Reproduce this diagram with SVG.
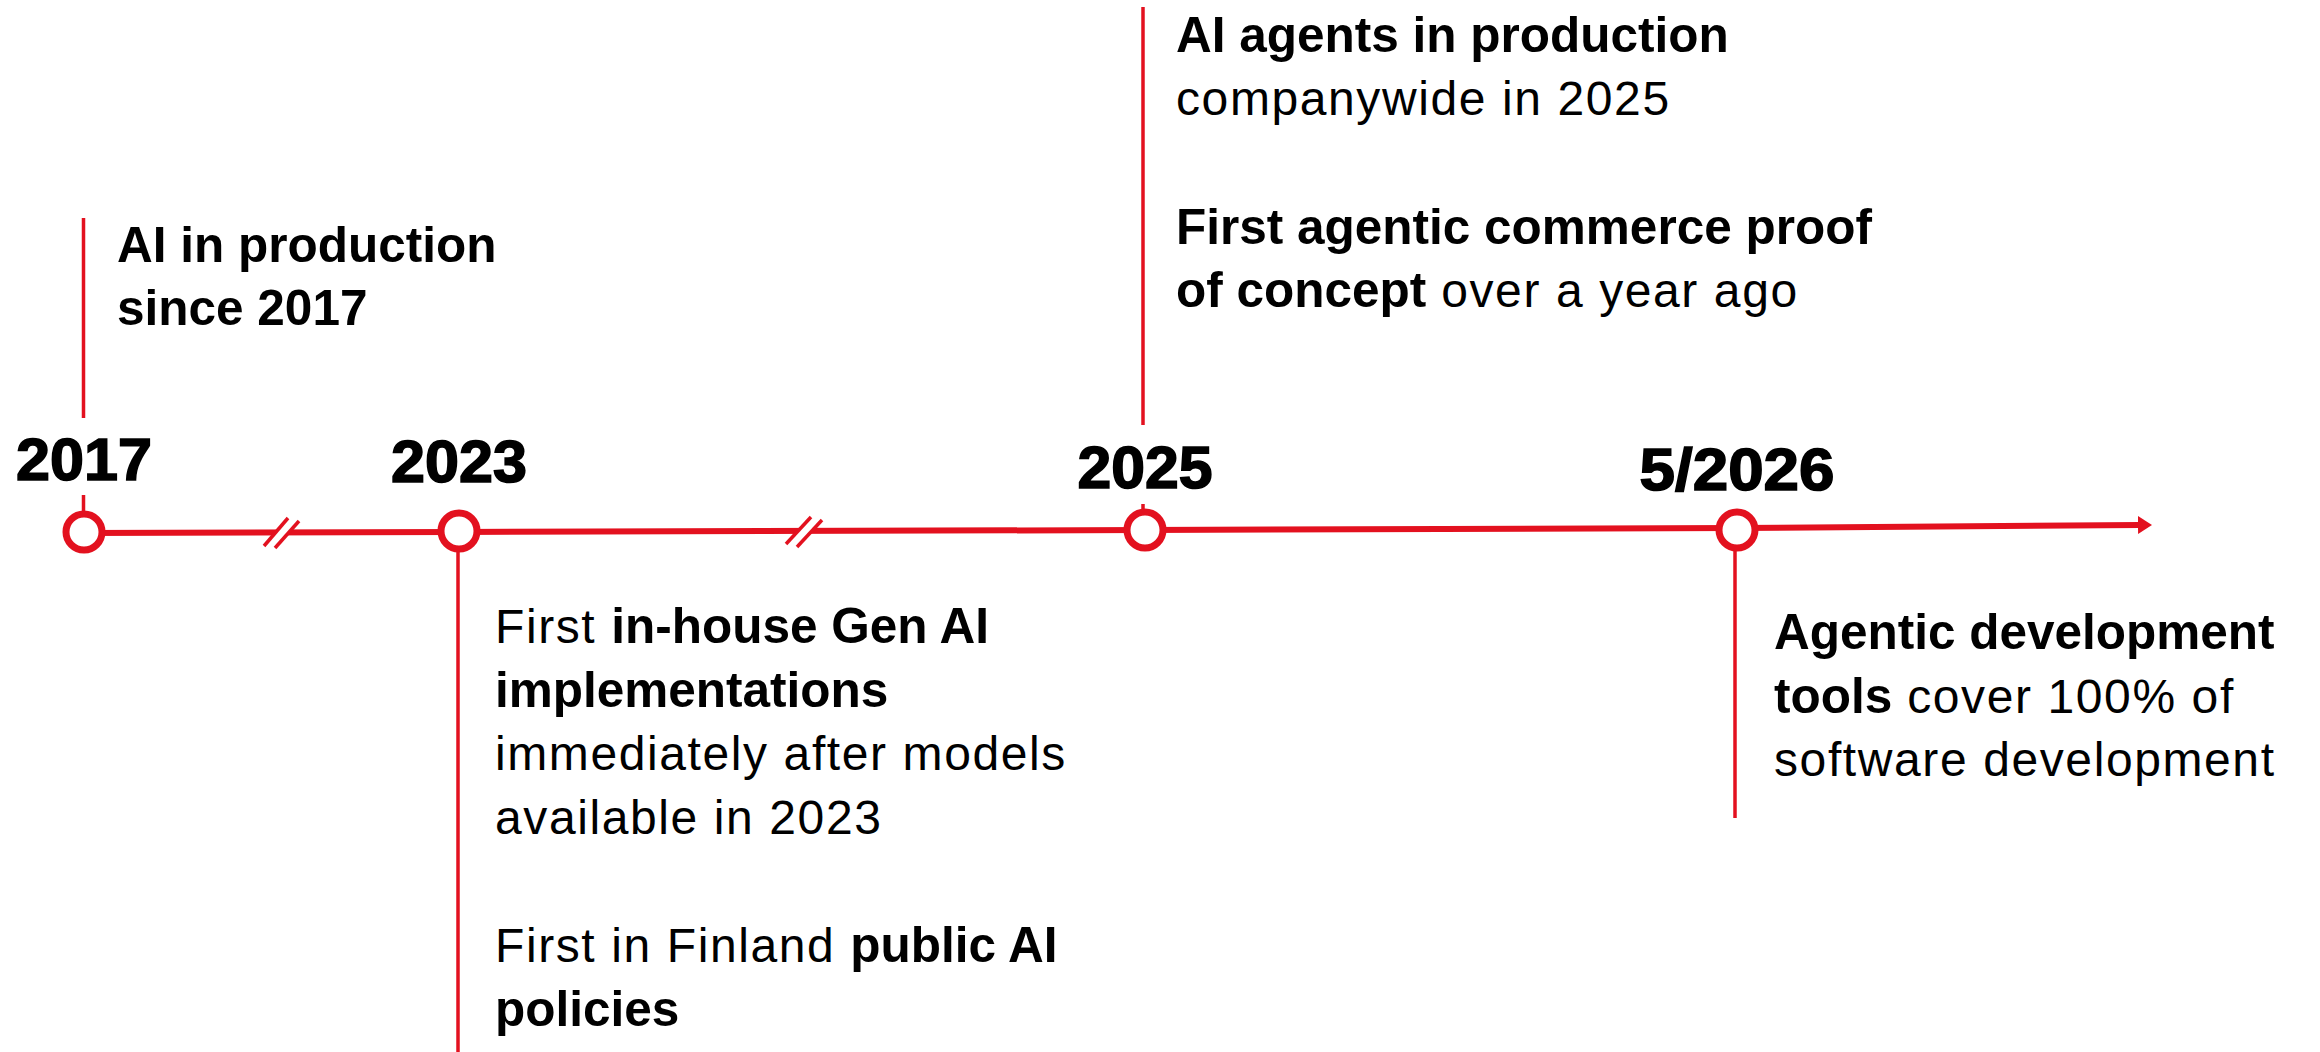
<svg xmlns="http://www.w3.org/2000/svg" width="2320" height="1052" viewBox="0 0 2320 1052">
<style>
.ln{stroke:#E3111F;fill:none}
.stem{stroke:#E3111F;stroke-width:3.5;fill:none}
.dot{stroke:#E3111F;stroke-width:7;fill:#fff}
.yr{font-family:"Liberation Sans",Arial,sans-serif;font-weight:bold;font-size:60px;fill:#000;stroke:#000;stroke-width:1.6;text-anchor:middle}
.t{font-family:"Liberation Sans",Arial,sans-serif;font-size:48px;fill:#000;letter-spacing:1.6px}
.b{font-weight:bold;font-size:49.5px;letter-spacing:0}
</style>
<defs>
<marker id="arr" markerUnits="userSpaceOnUse" markerWidth="16" markerHeight="20" refX="2" refY="10" orient="auto">
<path d="M0,1 L14,10 L0,19 Z" fill="#E3111F"/>
</marker>
</defs>
<g id="connectors">
<polyline class="ln" stroke-width="6" points="84,533 459,532 1145,530 1737,528 2140,525" marker-end="url(#arr)"/>
<polygon points="264,546 288,518 299,521 275,548" fill="#fff"/>
<line class="ln" stroke-width="3.5" x1="264" y1="546" x2="288" y2="518"/>
<line class="ln" stroke-width="3.5" x1="275" y1="548" x2="299" y2="521"/>
<polygon points="786,544 811,517 822,520 797,547" fill="#fff"/>
<line class="ln" stroke-width="3.5" x1="786" y1="544" x2="811" y2="517"/>
<line class="ln" stroke-width="3.5" x1="797" y1="547" x2="822" y2="520"/>
<line class="stem" x1="83.5" y1="218" x2="83.5" y2="418"/>
<line class="stem" x1="83.5" y1="495" x2="83.5" y2="512"/>
<line class="stem" x1="458" y1="550" x2="458" y2="1052"/>
<line class="stem" x1="1143" y1="7" x2="1143" y2="425"/>
<line class="stem" x1="1143" y1="504" x2="1143" y2="510"/>
<line class="stem" x1="1735" y1="548" x2="1735" y2="818"/>
</g>
<g id="n2017">
<circle class="dot" cx="84" cy="532" r="18"/>
<text class="yr" x="84" y="480" textLength="136" lengthAdjust="spacingAndGlyphs">2017</text>
<text class="t b" x="117" y="262">AI in production</text>
<text class="t b" x="117" y="325">since 2017</text>
</g>
<g id="n2023">
<circle class="dot" cx="459" cy="531" r="18"/>
<text class="yr" x="459" y="482" textLength="136" lengthAdjust="spacingAndGlyphs">2023</text>
<text class="t" x="495" y="643">First <tspan class="b">in-house Gen AI</tspan></text>
<text class="t b" x="495" y="707">implementations</text>
<text class="t" x="495" y="770">immediately after models</text>
<text class="t" x="495" y="834">available in 2023</text>
<text class="t" x="495" y="962">First in Finland <tspan class="b">public AI</tspan></text>
<text class="t b" x="495" y="1026">policies</text>
</g>
<g id="n2025">
<circle class="dot" cx="1145" cy="530" r="18"/>
<text class="yr" x="1145" y="488" textLength="135" lengthAdjust="spacingAndGlyphs">2025</text>
<text class="t b" x="1176" y="52">AI agents in production</text>
<text class="t" x="1176" y="115">companywide in 2025</text>
<text class="t b" x="1176" y="244">First agentic commerce proof</text>
<text class="t" x="1176" y="307"><tspan class="b">of concept</tspan> over a year ago</text>
</g>
<g id="n2026">
<circle class="dot" cx="1737" cy="530" r="18"/>
<text class="yr" x="1737" y="490" textLength="195" lengthAdjust="spacingAndGlyphs">5/2026</text>
<text class="t b" x="1774" y="649">Agentic development</text>
<text class="t" x="1774" y="713"><tspan class="b">tools</tspan> cover 100% of</text>
<text class="t" x="1774" y="776">software development</text>
</g>
</svg>
